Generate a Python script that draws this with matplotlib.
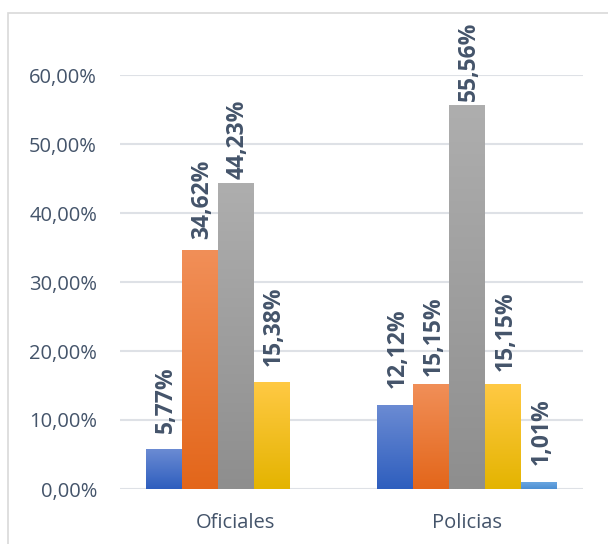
import numpy as np
import matplotlib
matplotlib.use('Agg')
import matplotlib.pyplot as plt
from matplotlib.colors import LinearSegmentedColormap
from matplotlib.patches import Rectangle

plt.rcParams['font.family'] = ['Open Sans', 'DejaVu Sans']

# Datos (porcentajes)
categorias = ['Oficiales', 'Policias']
serie1 = [5.77, 12.12]
serie2 = [34.62, 15.15]
serie3 = [44.23, 55.56]
serie4 = [15.38, 15.15]
serie5 = [0.0, 1.01]
series = [serie1, serie2, serie3, serie4, serie5]

# separación de cada etiqueta sobre su barra (px), como en el original
separacion = [(16, 17), (11, 8), (5, 5), (17, 13), (0, 17)]

# colores degradados (arriba, abajo)
colores = [('#6B8BD3', '#2E5EBE'),
           ('#F18F58', '#E3661A'),
           ('#AEAEAE', '#8E8E8E'),
           ('#FFC944', '#E4B400'),
           ('#6AA6E0', '#4C8FD2')]
texto = '#44546A'

fig = plt.figure(figsize=(6.08, 5.44), dpi=100)
ax = fig.add_axes([120/608, 1 - 489/544, 463/608, 414/544])

# marco del grafico
fig.patches.append(Rectangle((8/608, -0.1), 1.1, 1 - 13/544 + 0.1, transform=fig.transFigure,
                             fill=False, edgecolor='#D9D9D9', linewidth=1.2))

x = np.arange(len(categorias))
ancho = 0.1555
for i, vals in enumerate(series):
    pos = x + (i - 2) * ancho
    bars = ax.bar(pos, vals, ancho, color=colores[i][0], linewidth=0, zorder=2)
    cmap = LinearSegmentedColormap.from_list('g%d' % i, [colores[i][1], colores[i][0]])
    for b, v, sep in zip(bars, vals, separacion[i]):
        if v <= 0:
            continue
        x0 = b.get_x()
        grad = np.linspace(0, 1, 256).reshape(-1, 1)
        ax.imshow(grad, extent=(x0, x0 + b.get_width(), 0, b.get_height()), origin='lower',
                  aspect='auto', cmap=cmap, interpolation='bilinear', zorder=3)
        ax.annotate(f'{v:.2f}%'.replace('.', ','), (b.get_x() + b.get_width() / 2, v),
                    xytext=(1.5, sep * 0.72), textcoords='offset points', rotation=90,
                    ha='center', va='bottom', fontsize=16.5, fontweight='bold',
                    color=texto, annotation_clip=False, zorder=4)

ax.set_xlim(-0.5, 1.5)
ax.set_ylim(0, 60)
ax.set_yticks(np.arange(0, 61, 10))
ax.set_yticklabels([f'{t:.2f}%'.replace('.', ',') for t in np.arange(0, 61, 10)])
ax.set_xticks(x)
ax.set_xticklabels(categorias)
ax.tick_params(axis='y', length=0, pad=16.5, labelsize=14.5, labelcolor=texto)
ax.tick_params(axis='x', length=0, pad=17, labelsize=14.5, labelcolor=texto)
ax.grid(axis='y', color='#DEE1E6', linewidth=1.5, zorder=0)
ax.set_axisbelow(True)
for s in ax.spines.values():
    s.set_visible(False)

fig.savefig('out.png', dpi=100)
